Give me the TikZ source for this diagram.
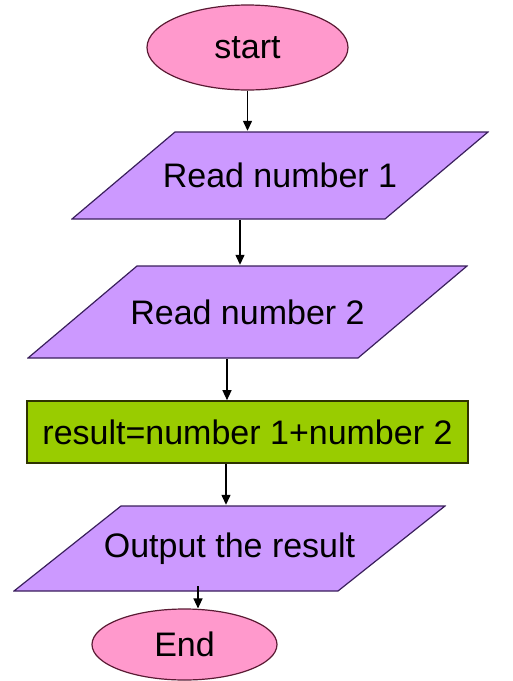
\documentclass[tikz,border=0pt]{standalone}
\usepackage{fontspec}
\setmainfont{Liberation Sans}
\usetikzlibrary{shapes.geometric,arrows.meta,calc}

\definecolor{termpink}{HTML}{FF99CC}
\definecolor{termedge}{HTML}{5A1A33}
\definecolor{iopurple}{HTML}{CC99FF}
\definecolor{ioedge}{HTML}{3A1F5C}
\definecolor{procgreen}{HTML}{99CC00}
\definecolor{procedge}{HTML}{2E3300}

\tikzset{
  term/.style={ellipse, draw=termedge, fill=termpink, line width=1.2pt, inner sep=0pt},
  io/.style={rectangle, inner sep=0pt,
    path picture={
      \draw[draw=ioedge, fill=iopurple, line width=1.2pt]
        ([shift={(#1,-1pt)}]path picture bounding box.north west) --
        ([shift={(-1pt,-1pt)}]path picture bounding box.north east) --
        ([shift={(-#1,1pt)}]path picture bounding box.south east) --
        ([shift={(1pt,1pt)}]path picture bounding box.south west) -- cycle;
    }},
  proc/.style={rectangle, draw=procedge, fill=procgreen, line width=1.6pt, inner sep=0pt},
  arr/.style={-{Triangle[length=10pt,width=9pt]}, line width=1.3pt}
}

\begin{document}
\begin{tikzpicture}[x=1pt, y=-1pt, font=\fontsize{34}{40}\selectfont]
\useasboundingbox (0,0) rectangle (513,681);
% Terminals
    \node[term, minimum width=201pt, minimum height=85pt] (start) at (247.5,47.5) {start};
    \node[term, minimum width=185pt, minimum height=71pt] (end) at (184.5,644.5) {End};
% Input / output
    \node[io=104pt, minimum width=418pt, minimum height=89pt] (read1) at (280,175.5) {Read number 1};
    \node[io=110pt, minimum width=441pt, minimum height=94pt] (read2) at (247.5,312) {Read number 2};
    \node[io=108pt, minimum width=433pt, minimum height=87pt] (output) at (229.5,548.5) {Output the result};
% Process
    \node[proc, minimum width=441pt, minimum height=62pt] (sum) at (247.5,432) {result=number 1+number 2};
% Arrows
    \draw[arr] (start.south) -- (start.south |- read1.north);
    \draw[arr] ([xshift=-40pt]read1.south) -- ([xshift=-40pt]read1.center |- read2.north);
    \draw[arr] ([xshift=-20.5pt]sum.north |- read2.south) -- ([xshift=-20.5pt]sum.north);
    \draw[arr] ([xshift=-21.5pt]sum.south) -- ([xshift=-21.5pt]sum.center |- output.north);
    \draw[arr] ($([xshift=13.5pt]end.north |- output.south)+(0,6pt)$) -- ([xshift=13.5pt]end.north);
\end{tikzpicture}
\end{document}
